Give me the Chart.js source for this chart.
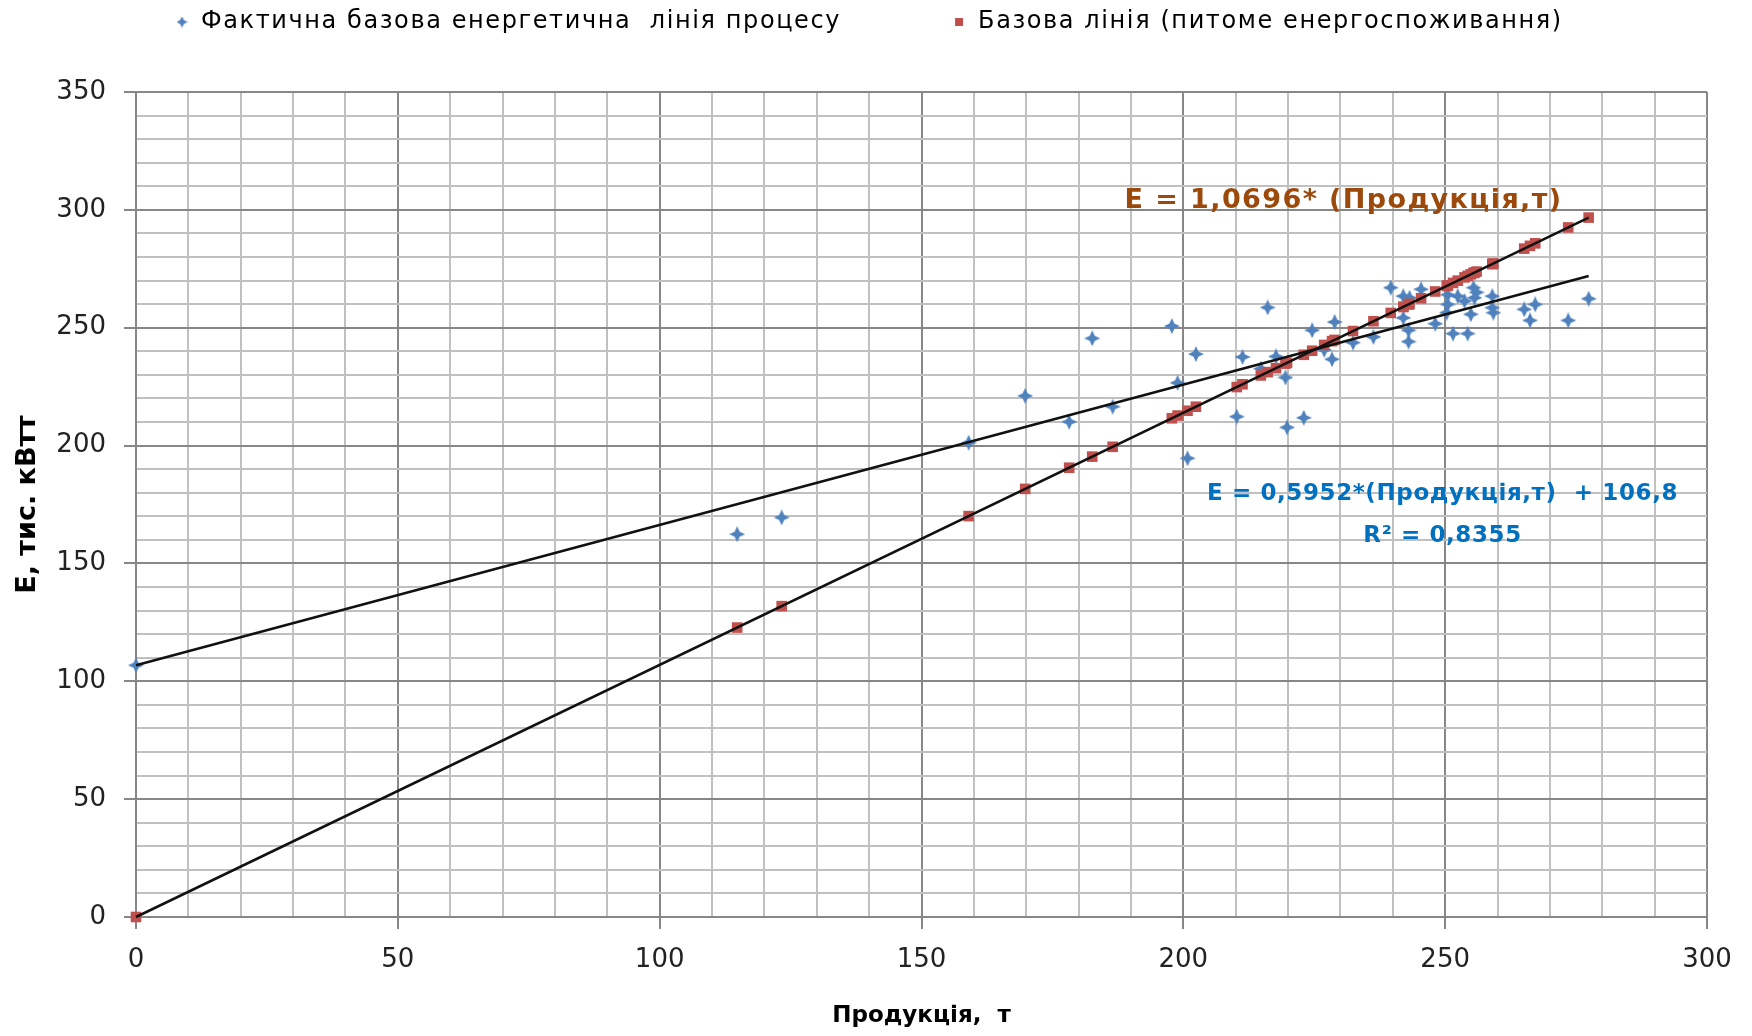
<!DOCTYPE html>
<html><head><meta charset="utf-8">
<script src="https://cdn.jsdelivr.net/npm/chart.js@4.4.1/dist/chart.umd.min.js"></script>
<style>html,body{margin:0;padding:0;background:#fff}canvas{display:block}</style>
</head><body>
<canvas id="c" width="1752" height="1036"></canvas>
<script>
// ---- data ----
const seriesNames = ['Фактична базова енергетична  лінія процесу', 'Базова лінія (питоме енергоспоживання)'];
const productionT = [0, 114.8, 123.3, 159.0, 169.8, 178.2, 182.6, 186.5, 197.8, 198.9, 200.8, 202.4, 210.2, 211.3,
  214.8, 216.1, 217.7, 219.5, 219.8, 223.0, 224.6, 226.9, 228.4, 228.9, 232.4, 236.3, 239.6, 242.0, 243.2, 242.0,
  243.0, 243.0, 245.4, 248.1, 250.5, 250.5, 250.3, 251.5, 252.4, 253.7, 254.3, 254.9, 255.4, 255.6, 256.0, 259.0,
  259.0, 259.2, 265.1, 266.2, 267.2, 273.5, 277.4];
const actualE = [106.8, 162.4, 169.5, 201.2, 221.1, 210.1, 245.5, 216.5, 250.7, 226.6, 194.6, 238.8, 212.3, 237.6,
  232.6, 258.6, 237.8, 228.9, 207.7, 211.8, 248.9, 240.6, 236.6, 252.4, 243.7, 246.1, 267.0, 263.4, 262.7, 254.2,
  248.9, 244.1, 266.3, 251.7, 264.0, 259.9, 256.4, 247.5, 263.4, 261.3, 247.5, 255.7, 267.0, 262.7, 265.0, 263.4,
  258.5, 256.4, 257.8, 253.1, 259.9, 253.1, 262.3];
const baselineE = [0, 122.79, 131.88, 170.07, 181.62, 190.60, 195.31, 199.48, 211.57, 212.74, 214.78, 216.49, 224.83, 226.01,
  229.75, 231.14, 232.85, 234.78, 235.10, 238.52, 240.23, 242.69, 244.30, 244.83, 248.58, 252.75, 256.28, 258.84, 260.13, 258.84,
  259.91, 259.91, 262.48, 265.37, 267.93, 267.93, 267.72, 269.00, 269.97, 271.36, 272.00, 272.64, 273.18, 273.39, 273.82, 277.03,
  277.03, 277.24, 283.55, 284.73, 285.80, 292.54, 296.71];
const actualTrendX = [0, 277.4];
const actualTrendE = [106.8, 271.91];
const baselineTrendX = [0, 277.4];
const baselineTrendE = [0, 296.71];
const xTickLabels = [0, 50, 100, 150, 200, 250, 300];
const yTickLabels = [0, 50, 100, 150, 200, 250, 300, 350];
const xTitle = 'Продукція,  т';
const yTitle = 'E, тис. кВтт';
const baselineEquation = 'E = 1,0696* (Продукція,т)';
const actualEquation = 'E = 0,5952*(Продукція,т)  + 106,8';
const actualR2 = 'R² = 0,8355';

// ---- styles ----
const BLUE = '#4F81BD', RED = '#C0504D';
const MAJOR = '#878787', MINOR = '#c0c0c0';

function makeStar(size, color, inner) {
  const c = document.createElement('canvas');
  c.width = c.height = size;
  const g = c.getContext('2d');
  const r = size / 2, ri = r * inner;
  g.fillStyle = color;
  g.beginPath();
  for (let i = 0; i < 8; i++) {
    const a = -Math.PI / 2 + i * Math.PI / 4;
    const rad = i % 2 === 0 ? r : ri;
    g.lineTo(r + rad * Math.cos(a), r + rad * Math.sin(a));
  }
  g.closePath();
  g.fill();
  return c;
}
const star = makeStar(16, BLUE, 0.45);
const legendStar = makeStar(11, BLUE, 0.5);

const toPts = (xs, ys) => xs.map((x, i) => ({x: x, y: ys[i]}));
const isLabel = (v, list) => Math.abs(v - Math.round(v)) < 1e-6 && list.includes(Math.round(v));

const overlay = {
  id: 'overlay',
  afterDraw(chart) {
    const ctx = chart.ctx, xs = chart.scales.x, ys = chart.scales.y;
    ctx.save();
    // legend
    ctx.font = '24px "DejaVu Sans"';
    ctx.letterSpacing = '1.6px';
    ctx.textBaseline = 'middle';
    ctx.fillStyle = '#000';
    const w1 = ctx.measureText(seriesNames[0]).width;
    const x0 = 182;
    const ly = 22;
    ctx.drawImage(legendStar, x0 - 5.5, ly - 5.5);
    ctx.textAlign = 'left';
    ctx.fillText(seriesNames[0], x0 + 19, ly);
    const x1 = x0 + 19 + w1 + 118;
    ctx.fillStyle = RED;
    ctx.fillRect(x1 - 4, ly - 4, 8, 8);
    ctx.fillStyle = '#000';
    ctx.fillText(seriesNames[1], x1 + 19, ly);

    // equations
    ctx.textAlign = 'center';
    ctx.font = 'bold 27px "DejaVu Sans"';
    ctx.letterSpacing = '1.4px';
    ctx.fillStyle = '#9C4A0C';
    ctx.fillText(baselineEquation, xs.getPixelForValue(230.6), ys.getPixelForValue(303.8));
    ctx.font = 'bold 23px "DejaVu Sans"';
    ctx.letterSpacing = '0.6px';
    ctx.fillStyle = '#0070C0';
    ctx.fillText(actualEquation, xs.getPixelForValue(249.5), ys.getPixelForValue(179.5));
    ctx.fillText(actualR2, xs.getPixelForValue(249.5), ys.getPixelForValue(161.6));
    ctx.restore();
  }
};

const gridColor = c => (c.tick && Math.round(c.tick.value) % 50 === 0) ? MAJOR : MINOR;
const tickColor = c => (c.tick && Math.round(c.tick.value) % 50 === 0) ? MAJOR : 'rgba(0,0,0,0)';

new Chart(document.getElementById('c'), {
  type: 'scatter',
  data: {
    datasets: [
      {label: 'trend1', data: toPts(actualTrendX, actualTrendE), showLine: true, borderColor: '#111', borderWidth: 2.5,
       pointRadius: 0, order: 0, clip: false},
      {label: 'trend2', data: toPts(baselineTrendX, baselineTrendE), showLine: true, borderColor: '#111', borderWidth: 2.5,
       pointRadius: 0, order: 0, clip: false},
      {label: seriesNames[1], data: toPts(productionT, baselineE), pointStyle: 'rect', pointRadius: 7.5,
       backgroundColor: RED, borderWidth: 0, order: 1, clip: false},
      {label: seriesNames[0], data: toPts(productionT, actualE), pointStyle: star, pointRadius: 8,
       backgroundColor: BLUE, borderWidth: 0, order: 2, clip: false}
    ]
  },
  options: {
    responsive: false, animation: false, devicePixelRatio: 1,
    layout: {padding: {top: 92, right: 45, left: 0, bottom: 0}},
    plugins: {legend: {display: false}, tooltip: {enabled: false}},
    scales: {
      x: {
        type: 'linear', min: 0, max: 300,
        afterFit(s) { s.height = 119; },
        ticks: {stepSize: 10, autoSkip: false, maxRotation: 0, padding: 16, color: '#222',
          font: {family: 'DejaVu Sans', size: 26},
          callback: v => isLabel(v, xTickLabels) ? String(Math.round(v)) : ''},
        grid: {color: gridColor, lineWidth: 2, tickLength: 12, tickColor: tickColor, tickWidth: 2},
        border: {color: MAJOR, width: 2},
        title: {display: true, text: xTitle, color: '#000',
          font: {family: 'DejaVu Sans', size: 23, weight: 'bold'}, padding: {top: 0, bottom: 6}}
      },
      y: {
        type: 'linear', min: 0, max: 350,
        afterFit(s) { s.width = 136; },
        ticks: {stepSize: 10, autoSkip: false, padding: 18, color: '#222',
          font: {family: 'DejaVu Sans', size: 26},
          callback: v => isLabel(v, yTickLabels) ? String(Math.round(v)) : ''},
        grid: {color: gridColor, lineWidth: 2, tickLength: 12, tickColor: tickColor, tickWidth: 2},
        border: {color: MAJOR, width: 2},
        title: {display: true, text: yTitle, color: '#000',
          font: {family: 'DejaVu Sans', size: 27, weight: 'bold'}, padding: {top: 12, bottom: 0}}
      }
    }
  },
  plugins: [overlay]
});
</script>
</body></html>
